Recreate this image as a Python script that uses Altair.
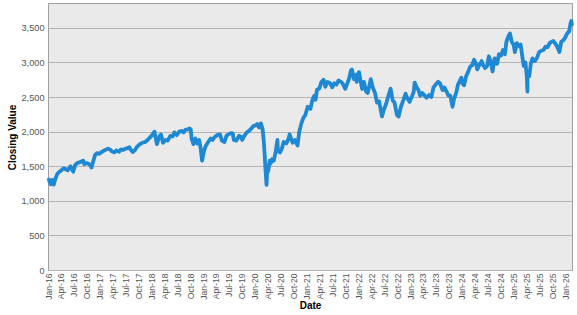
import altair as alt
import pandas as pd

# Closing values (approximate), grouped by year
d2016 = ["2016-01-04", "2016-01-12", "2016-01-20", "2016-02-01", "2016-02-11", "2016-02-22", "2016-03-07",
         "2016-03-21", "2016-04-04", "2016-04-20", "2016-05-02", "2016-05-19", "2016-06-08", "2016-06-27",
         "2016-07-11", "2016-07-25", "2016-08-15", "2016-09-06", "2016-09-13", "2016-09-26", "2016-10-10",
         "2016-10-24", "2016-11-03", "2016-11-14", "2016-11-28", "2016-12-12", "2016-12-28"]
v2016 = [1330, 1280, 1240, 1300, 1235, 1320, 1390, 1420, 1440, 1470, 1460, 1440, 1500, 1420,
         1520, 1545, 1560, 1580, 1530, 1545, 1540, 1520, 1480, 1560, 1660, 1690, 1680]

d2017 = ["2017-01-09", "2017-01-25", "2017-02-13", "2017-02-28", "2017-03-15", "2017-03-27", "2017-04-13",
         "2017-04-28", "2017-05-17", "2017-05-31", "2017-06-15", "2017-06-30", "2017-07-14", "2017-07-28",
         "2017-08-10", "2017-08-21", "2017-09-05", "2017-09-20", "2017-10-05", "2017-10-20", "2017-11-03",
         "2017-11-17", "2017-12-04", "2017-12-18"]
v2017 = [1700, 1720, 1740, 1755, 1740, 1715, 1700, 1730, 1710, 1745, 1735, 1755, 1760, 1775,
         1730, 1705, 1730, 1780, 1810, 1830, 1845, 1850, 1880, 1910]

d2018 = ["2018-01-05", "2018-01-22", "2018-02-08", "2018-02-26", "2018-03-09", "2018-03-23", "2018-04-09",
         "2018-04-25", "2018-05-14", "2018-05-30", "2018-06-12", "2018-06-28", "2018-07-16", "2018-07-31",
         "2018-08-15", "2018-08-29", "2018-09-12", "2018-09-28", "2018-10-05", "2018-10-11", "2018-10-24",
         "2018-11-07", "2018-11-20", "2018-12-03", "2018-12-14", "2018-12-24"]
v2018 = [1950, 2000, 1820, 1930, 1960, 1840, 1880, 1870, 1940, 1930, 1990, 1950, 2000, 2010,
         1990, 2030, 2030, 2045, 2030, 1900, 1820, 1900, 1830, 1880, 1760, 1580]

d2019 = ["2019-01-04", "2019-01-18", "2019-02-05", "2019-02-22", "2019-03-08", "2019-03-22", "2019-04-10",
         "2019-04-30", "2019-05-13", "2019-05-31", "2019-06-14", "2019-06-28", "2019-07-15", "2019-07-29",
         "2019-08-05", "2019-08-23", "2019-09-12", "2019-09-27", "2019-10-03", "2019-10-18", "2019-11-05",
         "2019-11-20", "2019-12-05", "2019-12-20"]
v2019 = [1700, 1790, 1850, 1900, 1880, 1920, 1950, 1960, 1870, 1850, 1940, 1960, 1980, 1975,
         1880, 1870, 1940, 1920, 1880, 1940, 1990, 2010, 2040, 2080]

d2020 = ["2020-01-06", "2020-01-17", "2020-01-31", "2020-02-12", "2020-02-24", "2020-03-02", "2020-03-09",
         "2020-03-16", "2020-03-23", "2020-03-27", "2020-04-06", "2020-04-14", "2020-04-21", "2020-05-01",
         "2020-05-13", "2020-05-26", "2020-06-08", "2020-06-11", "2020-06-26", "2020-07-10", "2020-07-22",
         "2020-08-10", "2020-08-26", "2020-09-02", "2020-09-23", "2020-10-09", "2020-10-28", "2020-11-09",
         "2020-11-24", "2020-12-08", "2020-12-22"]
v2020 = [2090, 2110, 2060, 2120, 2040, 1900, 1700, 1450, 1230, 1400, 1450, 1580, 1540, 1600,
         1580, 1700, 1880, 1720, 1700, 1760, 1850, 1830, 1900, 1960, 1840, 1880, 1800, 2000,
         2120, 2200, 2240]

d2021 = ["2021-01-08", "2021-01-27", "2021-02-10", "2021-02-24", "2021-03-04", "2021-03-15", "2021-03-30",
         "2021-04-15", "2021-04-30", "2021-05-12", "2021-05-28", "2021-06-15", "2021-06-30", "2021-07-15",
         "2021-07-30", "2021-08-13", "2021-08-31", "2021-09-10", "2021-09-30", "2021-10-15", "2021-10-29",
         "2021-11-08", "2021-11-16", "2021-11-30", "2021-12-10", "2021-12-20", "2021-12-30"]
v2021 = [2360, 2330, 2460, 2520, 2460, 2610, 2620, 2720, 2750, 2650, 2720, 2700, 2640, 2700,
         2680, 2740, 2720, 2700, 2620, 2700, 2780, 2880, 2900, 2760, 2820, 2720, 2840]

d2022 = ["2022-01-05", "2022-01-14", "2022-01-27", "2022-02-09", "2022-02-24", "2022-03-08", "2022-03-29",
         "2022-04-12", "2022-04-28", "2022-05-12", "2022-05-27", "2022-06-16", "2022-06-30", "2022-07-15",
         "2022-07-29", "2022-08-16", "2022-08-31", "2022-09-13", "2022-09-30", "2022-10-12", "2022-10-28",
         "2022-11-15", "2022-11-30", "2022-12-08", "2022-12-28"]
v2022 = [2860, 2760, 2620, 2720, 2580, 2560, 2760, 2640, 2560, 2420, 2440, 2220, 2320, 2400,
         2500, 2620, 2450, 2420, 2240, 2220, 2360, 2460, 2550, 2500, 2430]

d2023 = ["2023-01-12", "2023-01-27", "2023-02-02", "2023-02-16", "2023-03-01", "2023-03-13", "2023-03-28",
         "2023-04-14", "2023-04-27", "2023-05-15", "2023-05-31", "2023-06-15", "2023-06-30", "2023-07-18",
         "2023-07-31", "2023-08-18", "2023-08-31", "2023-09-15", "2023-09-29", "2023-10-12", "2023-10-27",
         "2023-11-08", "2023-11-22", "2023-12-05", "2023-12-19", "2023-12-29"]
v2023 = [2500, 2580, 2710, 2640, 2600, 2520, 2560, 2520, 2490, 2530, 2500, 2640, 2680, 2720,
         2700, 2600, 2640, 2580, 2520, 2520, 2360, 2480, 2560, 2680, 2740, 2780]

d2024 = ["2024-01-05", "2024-01-17", "2024-01-31", "2024-02-14", "2024-02-29", "2024-03-14", "2024-03-28",
         "2024-04-10", "2024-04-19", "2024-05-03", "2024-05-20", "2024-05-31", "2024-06-14", "2024-06-28",
         "2024-07-10", "2024-07-24", "2024-08-05", "2024-08-19", "2024-09-06", "2024-09-19", "2024-10-03",
         "2024-10-18", "2024-10-31", "2024-11-11", "2024-11-25", "2024-12-06", "2024-12-18", "2024-12-31"]
v2024 = [2700, 2670, 2800, 2860, 2940, 2960, 3040, 2980, 2900, 2960, 3020, 2960, 2920, 2950,
         3090, 3000, 2870, 3060, 2980, 3120, 3100, 3180, 3120, 3300, 3380, 3420, 3300, 3260]

d2025 = ["2025-01-10", "2025-01-23", "2025-02-06", "2025-02-19", "2025-03-03", "2025-03-13", "2025-03-25",
         "2025-04-04", "2025-04-08", "2025-04-09", "2025-04-21", "2025-05-02", "2025-05-14", "2025-05-30",
         "2025-06-13", "2025-06-30", "2025-07-15", "2025-07-31", "2025-08-14", "2025-08-29", "2025-09-12",
         "2025-09-26", "2025-10-09", "2025-10-20", "2025-11-04", "2025-11-20", "2025-12-03", "2025-12-17",
         "2025-12-31"]
v2025 = [3150, 3280, 3240, 3260, 3090, 2950, 3000, 2800, 2580, 2860, 2800, 2980, 3060, 3020,
         3060, 3150, 3170, 3180, 3230, 3220, 3280, 3300, 3310, 3280, 3230, 3150, 3300, 3320, 3360]

d2026 = ["2026-01-14", "2026-01-28", "2026-02-06", "2026-02-12", "2026-02-17"]
v2026 = [3420, 3450, 3560, 3600, 3530]

y_ticks = [0, 500, 1000, 1500, 2000, 2500, 3000, 3500]

dates = d2016 + d2017 + d2018 + d2019 + d2020 + d2021 + d2022 + d2023 + d2024 + d2025 + d2026
values = v2016 + v2017 + v2018 + v2019 + v2020 + v2021 + v2022 + v2023 + v2024 + v2025 + v2026
df = pd.DataFrame({"Date": dates, "Close": values})

x_ticks = [alt.DateTime(year=y, month=m, date=1, utc=True)
           for y in range(2016, 2027) for m in (1, 4, 7, 10) if not (y == 2026 and m > 1)]

label_font = "Liberation Sans"

chart = alt.Chart(df).mark_line(color="#1E88D2", strokeWidth=3.8, strokeJoin="round").encode(
    x=alt.X("Date:T",
            scale=alt.Scale(type="utc",
                            domain=[alt.DateTime(year=2016, month=1, date=1, utc=True),
                                    alt.DateTime(year=2026, month=2, date=17, utc=True)]),
            axis=alt.Axis(values=x_ticks, format="%b-%y", labelAngle=270, grid=False,
                          ticks=False, domain=False, labelOverlap=False, labelFlush=False,
                          labelPadding=3, labelFontSize=8.6, labelColor="#555555",
                          labelFont=label_font,
                          title="Date", titleFont=label_font, titleFontSize=10, titleFontWeight="bold",
                          titleColor="#000000", titleY=35, titleBaseline="middle")),
    y=alt.Y("Close:Q",
            scale=alt.Scale(domain=[0, 3860], nice=False, zero=True),
            axis=alt.Axis(values=y_ticks, format=",.0f", grid=True, gridColor="#B4B4B4", gridWidth=1,
                          ticks=False, domain=False, labelPadding=4, labelFontSize=9.2,
                          labelColor="#555555", labelFont=label_font,
                          title="Closing Value", titleFont=label_font, titleFontSize=10,
                          titleFontWeight="bold", titleColor="#000000", titleAngle=270,
                          titleX=-35.5, titleY=134, titleBaseline="middle", titleAlign="center")),
).properties(
    width=524, height=267,
    autosize=alt.AutoSizeParams(type="none"),
    padding={"left": 48, "top": 3, "right": 5, "bottom": 45},
    background="#FFFFFF",
).configure_view(fill="#EAEAEA", stroke="#A0A0A0", strokeWidth=1)

chart.save("out.html", embed_options={"renderer": "svg", "actions": False})
